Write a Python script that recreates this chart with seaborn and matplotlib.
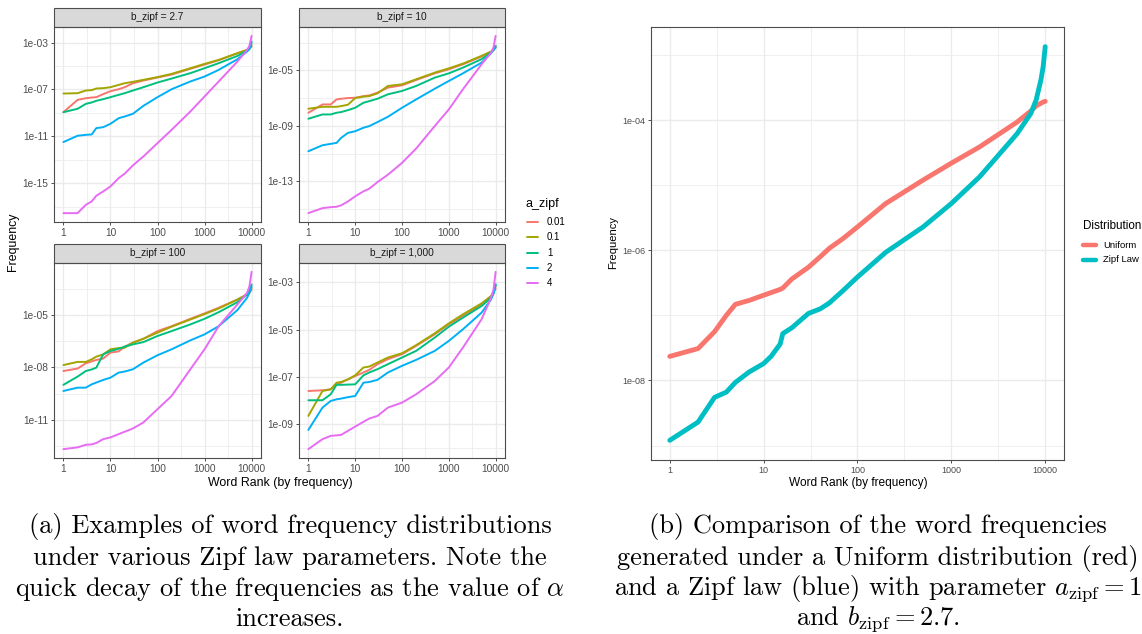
import numpy as np
import pandas as pd
import matplotlib
matplotlib.use("Agg")
import matplotlib.pyplot as plt
import seaborn as sns
from matplotlib.lines import Line2D
from matplotlib.patches import Rectangle
from matplotlib.ticker import FixedLocator, FuncFormatter, NullFormatter

# ---------------------------------------------------------------------------
# Data: word rank (x) against word frequency, stored as log10(frequency)
# ---------------------------------------------------------------------------
RANKS = [1, 2, 3, 4, 5, 7, 10, 15, 20, 30, 50, 100, 200, 500,
         1000, 2000, 5000, 8000, 9000, 10000]
A_ZIPF = ["0.01", "0.1", "1", "2", "4"]
B_ZIPF = ["2.7", "10", "100", "1,000"]

# b_zipf = 2.7
B27_A001 = [-8.94, -7.89, -7.75, -7.69, -7.66, -7.40, -7.15, -6.98, -6.81, -6.47,
            -6.24, -5.98, -5.73, -5.24, -4.88, -4.51, -3.91, -3.63, -3.51, -3.34]
B27_A01 = [-7.35, -7.32, -7.09, -7.06, -6.92, -6.89, -6.81, -6.61, -6.47, -6.35,
           -6.18, -5.95, -5.67, -5.19, -4.82, -4.48, -3.91, -3.63, -3.51, -3.28]
B27_A1 = [-8.94, -8.65, -8.23, -8.11, -7.97, -7.83, -7.66, -7.46, -7.32, -7.09,
          -6.81, -6.41, -6.07, -5.61, -5.19, -4.76, -4.14, -3.68, -3.51, -3.06]
B27_A2 = [-11.49, -10.95, -10.87, -10.84, -10.30, -10.22, -9.93, -9.45, -9.31, -9.08,
          -8.40, -7.66, -6.98, -6.32, -5.90, -5.33, -4.42, -3.77, -3.57, -2.91]
B27_A4 = [-17.55, -17.55, -16.84, -16.55, -16.07, -15.70, -15.27, -14.56, -14.19, -13.48,
          -12.72, -11.58, -10.44, -8.88, -7.60, -6.32, -4.62, -3.63, -3.28, -2.43]

# b_zipf = 10
B10_A001 = [-8.06, -7.46, -7.46, -7.10, -7.05, -7.00, -6.98, -6.86, -6.81, -6.61,
            -6.25, -6.08, -5.70, -5.22, -4.93, -4.57, -4.01, -3.67, -3.53, -3.36]
B10_A01 = [-7.77, -7.63, -7.63, -7.63, -7.58, -7.48, -7.00, -6.90, -6.86, -6.66,
           -6.13, -6.01, -5.65, -5.17, -4.86, -4.52, -3.96, -3.65, -3.53, -3.24]
B10_A1 = [-8.49, -8.18, -8.18, -8.06, -8.01, -7.87, -7.70, -7.34, -7.22, -7.05,
          -6.73, -6.49, -6.13, -5.53, -5.22, -4.81, -4.20, -3.72, -3.53, -3.36]
B10_A2 = [-10.83, -10.40, -10.30, -10.23, -9.87, -9.51, -9.39, -9.14, -9.02, -8.73,
          -8.35, -7.70, -7.10, -6.33, -5.77, -5.22, -4.45, -3.77, -3.53, -3.24]
B10_A4 = [-15.29, -14.93, -14.86, -14.83, -14.73, -14.45, -14.08, -13.72, -13.53, -13.05,
          -12.52, -11.67, -10.64, -9.02, -7.82, -6.37, -4.57, -3.72, -3.36, -2.52]

# b_zipf = 100
B100_A001 = [-8.21, -8.07, -7.77, -7.66, -7.58, -7.50, -7.16, -7.09, -6.82, -6.59,
             -6.37, -5.93, -5.65, -5.23, -4.92, -4.60, -4.13, -3.84, -3.75, -3.56]
B100_A01 = [-7.87, -7.69, -7.69, -7.54, -7.39, -7.26, -6.97, -6.90, -6.88, -6.59,
            -6.37, -6.02, -5.68, -5.27, -4.96, -4.64, -4.13, -3.84, -3.71, -3.46]
B100_A1 = [-9.00, -8.53, -8.21, -8.12, -8.02, -7.26, -7.07, -6.94, -6.82, -6.69,
           -6.56, -6.21, -5.93, -5.55, -5.23, -4.85, -4.28, -3.84, -3.65, -3.27]
B100_A2 = [-9.35, -9.16, -9.16, -8.97, -8.87, -8.72, -8.59, -8.30, -8.24, -8.11,
           -7.73, -7.31, -6.97, -6.46, -6.12, -5.65, -4.73, -4.03, -3.75, -3.37]
B100_A4 = [-12.67, -12.57, -12.42, -12.40, -12.32, -12.10, -12.00, -11.81, -11.68, -11.49,
           -11.15, -10.39, -9.63, -8.11, -6.97, -5.65, -4.41, -3.75, -3.37, -2.55]

# b_zipf = 1,000
B1000_A001 = [-7.59, -7.56, -7.52, -7.31, -7.24, -7.10, -6.96, -6.81, -6.70, -6.46,
              -6.25, -6.04, -5.69, -5.20, -4.78, -4.43, -3.94, -3.59, -3.45, -3.28]
B1000_A01 = [-8.64, -7.59, -7.52, -7.24, -7.21, -7.10, -6.93, -6.60, -6.56, -6.39,
             -6.18, -6.00, -5.66, -5.16, -4.74, -4.36, -3.90, -3.59, -3.45, -3.17]
B1000_A1 = [-7.98, -7.98, -7.73, -7.33, -7.33, -7.32, -7.31, -6.93, -6.81, -6.67,
            -6.46, -6.18, -5.90, -5.34, -4.88, -4.50, -4.01, -3.66, -3.48, -3.10]
B1000_A2 = [-9.23, -8.29, -8.01, -7.94, -7.91, -7.85, -7.80, -7.24, -7.21, -7.12,
            -6.81, -6.53, -6.28, -5.90, -5.48, -4.99, -4.29, -3.73, -3.48, -3.10]
B1000_A4 = [-10.04, -9.62, -9.48, -9.46, -9.44, -9.27, -9.09, -8.89, -8.75, -8.64,
            -8.29, -8.08, -7.73, -7.17, -6.60, -5.76, -4.57, -3.66, -3.31, -2.57]

FACET_SERIES = {
    "2.7": [B27_A001, B27_A01, B27_A1, B27_A2, B27_A4],
    "10": [B10_A001, B10_A01, B10_A1, B10_A2, B10_A4],
    "100": [B100_A001, B100_A01, B100_A1, B100_A2, B100_A4],
    "1,000": [B1000_A001, B1000_A01, B1000_A1, B1000_A2, B1000_A4],
}
# y-axis breaks (log10 exponents) for each facet
FACET_YBREAKS = {
    "2.7": [-3, -7, -11, -15],
    "10": [-5, -9, -13],
    "100": [-5, -8, -11],
    "1,000": [-3, -5, -7, -9],
}

# Uniform vs Zipf law comparison
RANKS_B = [1, 2, 3, 4, 5, 7, 10, 12, 15, 16, 20, 30, 40, 50, 70, 100, 200, 500,
           1000, 2000, 5000, 7000, 8000, 9000, 9500, 10000]
DISTRIBUTIONS = ["Uniform", "Zipf Law"]
UNIFORM_LOG = [-7.63, -7.51, -7.25, -7.00, -6.83, -6.77, -6.69, -6.65, -6.60, -6.58,
               -6.44, -6.26, -6.10, -5.97, -5.82, -5.64, -5.28, -4.92, -4.66, -4.41,
               -4.03, -3.86, -3.78, -3.74, -3.72, -3.71]
ZIPF_LOG = [-8.92, -8.64, -8.26, -8.18, -8.03, -7.87, -7.74, -7.63, -7.44, -7.28,
            -7.19, -6.97, -6.90, -6.81, -6.62, -6.41, -6.03, -5.64, -5.28, -4.87,
            -4.21, -3.90, -3.69, -3.38, -3.18, -2.87]
YBREAKS_B = [-4, -6, -8]

X_BREAKS = [1, 10, 100, 1000, 10000]

# ---------------------------------------------------------------------------
# Style
# ---------------------------------------------------------------------------
sns.set_style("white")
plt.rcParams["font.family"] = ["Liberation Sans", "DejaVu Sans"]
plt.rcParams["mathtext.fontset"] = "cm"

PAL5 = ["#F8766D", "#A3A500", "#00BF7D", "#00B0F6", "#E76BF3"]
PAL2 = ["#F8766D", "#00BFC4"]
GRID = "#EBEBEB"
BORDER = "#4D4D4D"
TICKTXT = "#4D4D4D"

W, H = 1142, 634
fig = plt.figure(figsize=(W / 100, H / 100), dpi=100)


def px_axes(left, top, right, bottom):
    return fig.add_axes([left / W, 1 - bottom / H, (right - left) / W, (bottom - top) / H])


def style_panel(ax, ybreaks, tick_size, log_vals):
    ax.set_xscale("log")
    ax.set_yscale("log")
    ax.set_xlim(10 ** -0.2, 10 ** 4.2)
    lo, hi = min(log_vals), max(log_vals)
    pad = 0.05 * (hi - lo)
    ax.set_ylim(10 ** (lo - pad), 10 ** (hi + pad))

    ax.xaxis.set_major_locator(FixedLocator(X_BREAKS))
    ax.xaxis.set_minor_locator(FixedLocator([10 ** (k + 0.5) for k in range(-1, 5)]))
    ax.xaxis.set_major_formatter(FuncFormatter(lambda v, p: f"{v:g}"))
    ax.xaxis.set_minor_formatter(NullFormatter())

    step = abs(ybreaks[0] - ybreaks[1])
    ymin = [b - step / 2 for b in ybreaks] + [ybreaks[0] + step / 2]
    ax.yaxis.set_major_locator(FixedLocator([10.0 ** b for b in ybreaks]))
    ax.yaxis.set_minor_locator(FixedLocator([10.0 ** b for b in ymin]))
    ax.yaxis.set_major_formatter(FuncFormatter(lambda v, p: f"{v:.0e}"))
    ax.yaxis.set_minor_formatter(NullFormatter())

    ax.grid(which="major", color=GRID, lw=1.0)
    ax.grid(which="minor", color=GRID, lw=0.55)
    ax.set_axisbelow(True)
    for s in ax.spines.values():
        s.set_color(BORDER)
        s.set_linewidth(0.8)
    ax.tick_params(which="major", length=2.5, width=0.6, color="#333333",
                   labelsize=tick_size, labelcolor=TICKTXT, pad=1.5,
                   bottom=True, left=True)
    ax.tick_params(which="minor", length=0)
    ax.set_xlabel("")
    ax.set_ylabel("")


# ---------------------------------------------------------------------------
# Facet grid of word-frequency curves
# ---------------------------------------------------------------------------
FACET_BOXES = {
    "2.7": (54, 27, 261, 222),
    "10": (299, 27, 505, 222),
    "100": (54, 263, 261, 458),
    "1,000": (299, 263, 505, 458),
}
STRIP_PX = 19

for b in B_ZIPF:
    rows = []
    for a, vals in zip(A_ZIPF, FACET_SERIES[b]):
        for r, v in zip(RANKS, vals):
            rows.append({"rank": r, "freq": 10.0 ** v, "a_zipf": a})
    df = pd.DataFrame(rows)
    box = FACET_BOXES[b]
    ax = px_axes(*box)
    sns.lineplot(data=df, x="rank", y="freq", hue="a_zipf", hue_order=A_ZIPF,
                 palette=PAL5, lw=1.4, estimator=None, sort=True, legend=False, ax=ax)
    all_vals = [v for s in FACET_SERIES[b] for v in s]
    style_panel(ax, FACET_YBREAKS[b], 7.3, all_vals)
    sh = STRIP_PX / (box[3] - box[1])
    ax.add_patch(Rectangle((0, 1), 1, sh, transform=ax.transAxes, clip_on=False,
                           facecolor="#D9D9D9", edgecolor=BORDER, lw=0.8))
    ax.text(0.5, 1 + sh / 2, f"b_zipf = {b}", transform=ax.transAxes,
            ha="center", va="center", fontsize=7.3, color="#1A1A1A")

fig.text(13 / W, 1 - 242 / H, "Frequency", rotation=90, ha="center", va="center",
         fontsize=8.9, color="black")
fig.text(280 / W, 1 - 483 / H, "Word Rank (by frequency)", ha="center", va="center",
         fontsize=8.9, color="black")

# legend for a_zipf
fig.text(525 / W, 1 - 204 / H, "a_zipf", ha="left", va="center", fontsize=9, color="black")
for i, (a, c) in enumerate(zip(A_ZIPF, PAL5)):
    yy = 1 - (222 + i * 15.3) / H
    fig.add_artist(Line2D([527 / W, 538 / W], [yy, yy], color=c, lw=1.4,
                          transform=fig.transFigure))
    fig.text(547 / W, yy, a, ha="left", va="center", fontsize=7, color="black")

# ---------------------------------------------------------------------------
# Uniform vs Zipf law comparison
# ---------------------------------------------------------------------------
rows_b = []
for name, vals in zip(DISTRIBUTIONS, [UNIFORM_LOG, ZIPF_LOG]):
    for r, v in zip(RANKS_B, vals):
        rows_b.append({"rank": r, "freq": 10.0 ** v, "Distribution": name})
df_b = pd.DataFrame(rows_b)
axb = px_axes(651, 27, 1064, 460)
sns.lineplot(data=df_b, x="rank", y="freq", hue="Distribution", hue_order=DISTRIBUTIONS,
             palette=PAL2, lw=3.5, estimator=None, sort=True, legend=False, ax=axb)
style_panel(axb, YBREAKS_B, 6.5, UNIFORM_LOG + ZIPF_LOG)

fig.text(613 / W, 1 - 242 / H, "Frequency", rotation=90, ha="center", va="center",
         fontsize=8, color="black")
fig.text(858 / W, 1 - 483 / H, "Word Rank (by frequency)", ha="center", va="center",
         fontsize=8.6, color="black")

fig.text(1083 / W, 1 - 226 / H, "Distribution", ha="left", va="center",
         fontsize=8.4, color="black")
for i, (d, c) in enumerate(zip(DISTRIBUTIONS, PAL2)):
    yy = 1 - (245 + i * 15) / H
    fig.add_artist(Line2D([1083 / W, 1096 / W], [yy, yy], color=c, lw=3.2,
                          transform=fig.transFigure))
    fig.text(1103 / W, yy, d, ha="left", va="center", fontsize=6.8, color="black")

# ---------------------------------------------------------------------------
# Captions
# ---------------------------------------------------------------------------
CAP_A = ["(a) Examples of word frequency distributions",
         "under various Zipf law parameters. Note the",
         r"quick decay of the frequencies as the value of $\alpha$",
         "increases."]
CAP_B = ["(b) Comparison of the word frequencies",
         "generated under a Uniform distribution (red)",
         r"and a Zipf law (blue) with parameter $a_{\mathrm{zipf}} = 1$",
         r"and $b_{\mathrm{zipf}} = 2.7$."]
CAP_Y = [527, 558, 589, 619]
for line_a, line_b, yy in zip(CAP_A, CAP_B, CAP_Y):
    fig.text(290 / W, 1 - yy / H, line_a, ha="center", va="center",
             fontsize=19, family="cmr10", color="black")
    fig.text(878 / W, 1 - yy / H, line_b, ha="center", va="center",
             fontsize=19, family="cmr10", color="black")

fig.savefig("out.png", dpi=100, facecolor="white")
